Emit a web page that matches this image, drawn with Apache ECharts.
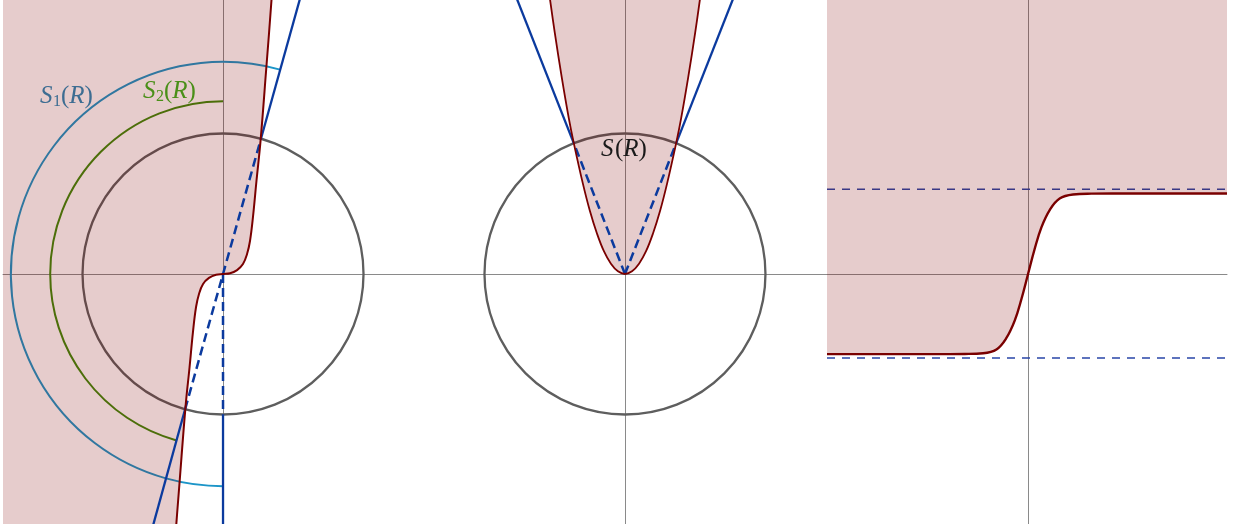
<!DOCTYPE html>
<html><head><meta charset="utf-8">
<script src="https://cdn.jsdelivr.net/npm/echarts@6/dist/echarts.min.js"></script>
<style>html,body{margin:0;padding:0;background:#fff}#c{width:1234px;height:524px}</style>
</head><body><div id="c"></div>
<script>
// ---------- Panel 1: cubic-like curve, circle S(R), arcs S1(R), S2(R)
const cubicX = [-3.6, -3.45, -3.08, -2.67, -2.38, -2.14, -1.92, -1.71, -1.42, -1.0, -0.5, 0, 0.5, 1.0, 1.42, 1.71, 1.92, 2.14, 2.38, 2.67, 3.08, 3.45, 3.6];
const cubicY = [-22, -19.5, -14.66, -9.47, -6.62, -4.13, -2.35, -1.42, -0.71, -0.28, -0.05, 0, 0.05, 0.28, 0.71, 1.42, 2.35, 4.13, 6.62, 9.47, 14.66, 19.5, 22];
const circle1 = [0, 0, 10];                 // cx, cy, radius
const arcS1 = [0, 0, 15.1, 74.4, 270];      // cx, cy, radius, from deg, to deg
const arcS2 = [0, 0, 12.3, 90, 254.4];
const slopeDashed = [[-2.70, -9.63], [2.70, 9.63]];
const slopeUpper = [[2.70, 9.63], [5.48, 19.6]];
const slopeLower = [[-2.70, -9.63], [-4.98, -17.9]];
const vertDashed = [[0, 0], [0, -10]];
const vertSolid = [[0, -10], [0, -17.9]];

// ---------- Panel 2: parabola, circle, two rays
const paraX = [-5.4, -5.0, -4.5, -4.0, -3.64, -3.0, -2.5, -2.0, -1.5, -1.0, -0.5, 0, 0.5, 1.0, 1.5, 2.0, 2.5, 3.0, 3.64, 4.0, 4.5, 5.0, 5.4];
const paraY = [20.0, 17.2, 14.0, 11.1, 9.3, 6.45, 4.5, 2.9, 1.62, 0.73, 0.19, 0, 0.19, 0.73, 1.62, 2.9, 4.5, 6.45, 9.3, 11.1, 14.0, 17.2, 20.0];
const circle2 = [0, 0, 10];
const rayLeftDashed = [[0, 0], [-3.64, 9.3]];
const rayLeftSolid = [[-3.64, 9.3], [-7.7, 19.6]];
const rayRightDashed = [[0, 0], [3.64, 9.3]];
const rayRightSolid = [[3.64, 9.3], [7.7, 19.6]];

// ---------- Panel 3: sigmoid with asymptotes
const sigX = [-14.31, -6, -4.5, -3.2, -2.25, -1.55, -0.95, -0.47, 0, 0.47, 0.95, 1.55, 2.25, 3.2, 4.5, 6, 14.16];
const sigY = [-5.70, -5.70, -5.69, -5.64, -5.37, -4.57, -3.32, -1.78, 0, 1.78, 3.32, 4.57, 5.37, 5.66, 5.72, 5.73, 5.73];
const asymTop = [[-14.31, 6.03], [14.16, 6.03]];
const asymBottom = [[-14.31, -5.98], [14.16, -5.98]];

// ---------- build
const zip = (xs, ys) => xs.map((x, i) => [x, ys[i]]);
const cubicPts = zip(cubicX, cubicY);
const paraPts = zip(paraX, paraY);
const sigPts = zip(sigX, sigY);

const FILL = 'rgba(128,0,0,0.2)';
const CURVE = '#7a0000';
const BLUE = '#0b3a9e';
const AXIS = '#8a8a8a';

function hiddenAxis(gi, min, max) {
  return {
    type: 'value', gridIndex: gi, min: min, max: max,
    axisLine: { show: true, onZero: true, lineStyle: { color: AXIS, width: 1 } },
    axisTick: { show: false }, axisLabel: { show: false }, splitLine: { show: false }
  };
}

function circleItem(stroke, width) {
  return function (params, api) {
    const c = api.coord([api.value(0), api.value(1)]);
    const r = api.size([api.value(2), 0])[0];
    return { type: 'circle', shape: { cx: c[0], cy: c[1], r: r },
      style: { fill: null, stroke: stroke, lineWidth: width } };
  };
}
function arcItem(stroke, width) {
  return function (params, api) {
    const c = api.coord([api.value(0), api.value(1)]);
    const r = api.size([api.value(2), 0])[0];
    const a0 = -api.value(3) * Math.PI / 180;
    const a1 = -api.value(4) * Math.PI / 180;
    return { type: 'arc', shape: { cx: c[0], cy: c[1], r: r, startAngle: a0, endAngle: a1, clockwise: false },
      style: { fill: null, stroke: stroke, lineWidth: width } };
  };
}
function seg(gi, data, color, width, dash, z) {
  return { type: 'line', xAxisIndex: gi, yAxisIndex: gi, data: data, symbol: 'none', z: z || 2,
    lineStyle: { color: color, width: width, type: dash || 'solid', cap: 'butt' }, animation: false, silent: true };
}

const option = {
  animation: false,
  backgroundColor: '#fff',
  grid: [
    { left: 3, top: 0, width: 421.5, height: 524 },
    { left: 424.5, top: 0, width: 402.5, height: 524 },
    { left: 827, top: 0, width: 400, height: 524 }
  ],
  xAxis: [hiddenAxis(0, -15.66, 14.34), hiddenAxis(1, -14.27, 14.38), hiddenAxis(2, -14.31, 14.16)],
  yAxis: [hiddenAxis(0, -17.794, 19.502), hiddenAxis(1, -17.794, 19.502), hiddenAxis(2, -17.794, 19.502)],
  series: [
    // panel 1
    { type: 'custom', xAxisIndex: 0, yAxisIndex: 0, data: [circle1], renderItem: circleItem('#5e5e5e', 2.3), z: 2, silent: true },
    { type: 'custom', xAxisIndex: 0, yAxisIndex: 0, data: [arcS1], renderItem: arcItem('#1c95c8', 2), z: 2, silent: true },
    { type: 'custom', xAxisIndex: 0, yAxisIndex: 0, data: [arcS2], renderItem: arcItem('#3f8a0c', 2), z: 2, silent: true },
    { type: 'line', xAxisIndex: 0, yAxisIndex: 0, data: [[-15.66, -22]].concat(cubicPts), symbol: 'none', smooth: 0.4, z: 3,
      lineStyle: { width: 0, opacity: 0 }, areaStyle: { color: FILL, origin: 'end', opacity: 1 }, silent: true },
    seg(0, slopeDashed, BLUE, 2.5, [9, 5], 4),
    seg(0, slopeUpper, BLUE, 2.3, null, 4),
    seg(0, slopeLower, BLUE, 2.3, null, 4),
    seg(0, vertDashed, BLUE, 2.5, [9, 5], 4),
    seg(0, vertSolid, BLUE, 2.3, null, 4),
    { type: 'line', xAxisIndex: 0, yAxisIndex: 0, data: cubicPts, symbol: 'none', smooth: 0.4, z: 5,
      lineStyle: { color: CURVE, width: 2 }, silent: true },
    // panel 2
    { type: 'custom', xAxisIndex: 1, yAxisIndex: 1, data: [circle2], renderItem: circleItem('#5e5e5e', 2.3), z: 2, silent: true },
    { type: 'line', xAxisIndex: 1, yAxisIndex: 1, data: paraPts, symbol: 'none', smooth: 0.4, z: 3,
      lineStyle: { width: 0, opacity: 0 }, areaStyle: { color: FILL, origin: 'end', opacity: 1 }, silent: true },
    seg(1, rayLeftDashed, BLUE, 2.5, [9, 5], 4),
    seg(1, rayRightDashed, BLUE, 2.5, [9, 5], 4),
    seg(1, rayLeftSolid, BLUE, 2.3, null, 4),
    seg(1, rayRightSolid, BLUE, 2.3, null, 4),
    { type: 'line', xAxisIndex: 1, yAxisIndex: 1, data: paraPts, symbol: 'none', smooth: 0.4, z: 5,
      lineStyle: { color: CURVE, width: 1.8 }, silent: true },
    // panel 3
    seg(2, asymTop, '#2846a8', 1.6, [8, 7]),
    seg(2, asymBottom, '#2846a8', 1.6, [8, 7]),
    { type: 'line', xAxisIndex: 2, yAxisIndex: 2, data: sigPts, symbol: 'none', smooth: 0.4, z: 3,
      lineStyle: { width: 0, opacity: 0 }, areaStyle: { color: FILL, origin: 'end', opacity: 1 }, silent: true },
    { type: 'line', xAxisIndex: 2, yAxisIndex: 2, data: sigPts, symbol: 'none', smooth: 0.4, z: 5,
      lineStyle: { color: CURVE, width: 2.4 }, silent: true }
  ],
  graphic: [
    // S1(R)
    { type: 'text', x: 40, y: 96, z: 10, style: { text: 'S', font: 'italic 25px "Liberation Serif"', fill: '#3d6d92', verticalAlign: 'middle' } },
    { type: 'text', x: 53, y: 102, z: 10, style: { text: '1', font: '16px "Liberation Serif"', fill: '#3d6d92', verticalAlign: 'middle' } },
    { type: 'text', x: 61, y: 96, z: 10, style: { text: '{p|(}{i|R}{p|)}', verticalAlign: 'middle',
      rich: { p: { font: '25px "Liberation Serif"', fill: '#3d6d92' }, i: { font: 'italic 25px "Liberation Serif"', fill: '#3d6d92' } } } },
    // S2(R)
    { type: 'text', x: 143, y: 91, z: 10, style: { text: 'S', font: 'italic 25px "Liberation Serif"', fill: '#4a8f18', verticalAlign: 'middle' } },
    { type: 'text', x: 156, y: 97, z: 10, style: { text: '2', font: '16px "Liberation Serif"', fill: '#4a8f18', verticalAlign: 'middle' } },
    { type: 'text', x: 164, y: 91, z: 10, style: { text: '{p|(}{i|R}{p|)}', verticalAlign: 'middle',
      rich: { p: { font: '25px "Liberation Serif"', fill: '#4a8f18' }, i: { font: 'italic 25px "Liberation Serif"', fill: '#4a8f18' } } } },
    // S(R)
    { type: 'text', x: 601, y: 149, z: 10, style: { text: 'S', font: 'italic 25px "Liberation Serif"', fill: '#1a1a1a', verticalAlign: 'middle' } },
    { type: 'text', x: 615, y: 149, z: 10, style: { text: '{p|(}{i|R}{p|)}', verticalAlign: 'middle',
      rich: { p: { font: '25px "Liberation Serif"', fill: '#1a1a1a' }, i: { font: 'italic 25px "Liberation Serif"', fill: '#1a1a1a' } } } }
  ]
};
const chart = echarts.init(document.getElementById('c'), null, { renderer: 'canvas' });
chart.setOption(option);
</script>
</body></html>
